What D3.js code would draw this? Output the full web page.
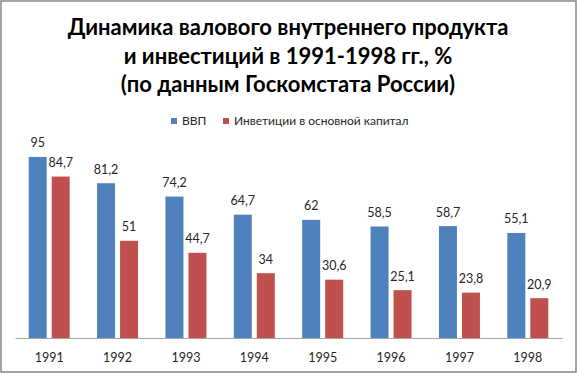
<!DOCTYPE html>
<html>
<head>
<meta charset="utf-8">
<script src="https://cdn.jsdelivr.net/npm/d3@7"></script>
<style>
  body { margin: 0; background: #fff; }
  text { font-family: Lato, "Open Sans", sans-serif; }
</style>
</head>
<body>
<svg id="chart" width="577" height="373"></svg>
<script>
'use strict';

const years = ["1991", "1992", "1993", "1994", "1995", "1996", "1997", "1998"];
const gdp = [95, 81.2, 74.2, 64.7, 62, 58.5, 58.7, 55.1];
const invest = [84.7, 51, 44.7, 34, 30.6, 25.1, 23.8, 20.9];
const seriesNames = ["ВВП", "Инветиции в основной капитал"];
const seriesColors = ["#4f81bd", "#c0504d"];
const titleLines = [
    "Динамика валового внутреннего продукта",
    "и инвестиций в 1991-1998 гг., %",
    "(по данным Госкомстата России)"
];

const svg = d3.select("#chart");
const W = 577, H = 373;

// outer frame
svg.append("rect")
    .attr("x", 1).attr("y", 1)
    .attr("width", W - 2).attr("height", H - 2)
    .attr("fill", "#fff")
    .attr("stroke", "#868686")
    .attr("stroke-width", 1.5);

// title
svg.append("g").selectAll("text")
    .data(titleLines)
    .enter().append("text")
    .attr("x", 288)
    .attr("y", (d, i) => 35 + i * 28.5)
    .attr("text-anchor", "middle")
    .attr("font-size", 22)
    .attr("font-weight", "bold")
    .attr("fill", "#000")
    .text(d => d);

// plot area
const margin = { top: 147, left: 15, right: 15, bottom: 35 };
const plotW = W - margin.left - margin.right;
const baseY = H - margin.bottom;

const x = d3.scaleBand().domain(years).range([margin.left, margin.left + plotW]);
const y = d3.scaleLinear().domain([0, 100]).range([baseY, baseY - 190.6]);

const barW = 18, gap = 5;
const groupW = barW * 2 + gap;

const rows = years.map((yr, i) => ({ year: yr, vals: [gdp[i], invest[i]] }));
const fmt = v => String(v).replace(".", ",");

const groups = svg.append("g").selectAll("g")
    .data(rows)
    .enter().append("g")
    .attr("transform", d => "translate(" + (x(d.year) + (x.bandwidth() - groupW) / 2) + ",0)");

groups.selectAll("rect")
    .data(d => d.vals)
    .enter().append("rect")
    .attr("x", (d, i) => i * (barW + gap))
    .attr("y", d => y(d))
    .attr("width", barW)
    .attr("height", d => baseY - y(d))
    .attr("fill", (d, i) => seriesColors[i]);

groups.selectAll("text")
    .data(d => d.vals)
    .enter().append("text")
    .attr("x", (d, i) => i * (barW + gap) + barW / 2)
    .attr("y", d => y(d) - 9.5)
    .attr("text-anchor", "middle")
    .attr("font-size", 12.5)
    .attr("fill", "#262626")
    .text(d => fmt(d));

// x axis
const xAxis = d3.axisBottom(x).tickSize(0).tickPadding(15);
const axisG = svg.append("g")
    .attr("transform", "translate(0," + baseY + ")")
    .call(xAxis);
axisG.select(".domain").attr("stroke", "#a6a6a6").attr("stroke-width", 1.2);
axisG.selectAll("text")
    .attr("font-size", 12.5)
    .attr("font-family", "Lato, 'Open Sans', sans-serif")
    .attr("fill", "#262626");

// legend
const legendX = [171, 223];
const legend = svg.append("g").selectAll("g")
    .data(seriesNames)
    .enter().append("g")
    .attr("transform", (d, i) => "translate(" + legendX[i] + ",118)");
legend.append("rect")
    .attr("width", 6).attr("height", 6)
    .attr("fill", (d, i) => seriesColors[i]);
legend.append("text")
    .attr("x", 11).attr("y", 6.5)
    .attr("font-size", 12)
    .attr("fill", "#262626")
    .text(d => d);
</script>
</body>
</html>
